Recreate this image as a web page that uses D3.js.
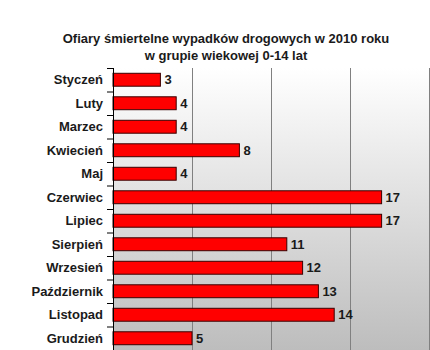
<!DOCTYPE html>
<html><head><meta charset="utf-8">
<script src="https://cdn.jsdelivr.net/npm/d3@7"></script>
<style>body{margin:0;background:#fff}svg{display:block}text{font-family:"Liberation Sans",Arial,sans-serif;font-weight:bold;fill:#1a1a1a}</style>
</head><body>
<script>
const months = ["Styczeń","Luty","Marzec","Kwiecień","Maj","Czerwiec","Lipiec","Sierpień","Wrzesień","Październik","Listopad","Grudzień"];
const values = [3,4,4,8,4,17,17,11,12,13,14,5];
const xTicks = [0,5,10,15,20];
const titleLines = ["Ofiary śmiertelne wypadków drogowych w 2010 roku","w grupie wiekowej 0-14 lat"];

const W=430,H=350;
const svg=d3.select("body").append("svg").attr("width",W).attr("height",H);
const L=113,R=429,T=68,B=350;
const x=d3.scaleLinear().domain([0,20]).range([L,R]);
const y=d3.scaleBand().domain(months).range([T,B]).paddingInner(0.45).paddingOuter(0.225);
const yb=d3.scaleBand().domain(months).range([T,B]);

const defs=svg.append("defs");
const g=defs.append("linearGradient").attr("id","bg").attr("x1",0).attr("y1",0).attr("x2",0).attr("y2",1);
g.append("stop").attr("offset","0%").attr("stop-color","#ffffff");
g.append("stop").attr("offset","100%").attr("stop-color","#bdbdbd");
svg.append("rect").attr("x",L).attr("y",T).attr("width",R-L).attr("height",B-T).attr("fill","url(#bg)");

svg.append("g").selectAll("line").data(xTicks.slice(1)).join("line")
 .attr("x1",d=>x(d)+0.5).attr("x2",d=>x(d)+0.5).attr("y1",T).attr("y2",B)
 .attr("stroke","#808080").attr("stroke-width",1);

svg.append("g").selectAll("rect").data(values).join("rect")
 .attr("x",L).attr("y",(d,i)=>y(months[i])).attr("width",d=>x(d)-L).attr("height",y.bandwidth())
 .attr("fill","#ff0000").attr("stroke","#3a0000").attr("stroke-width",1);

svg.append("g").selectAll("text").data(values).join("text")
 .attr("x",d=>x(d)+4).attr("y",(d,i)=>y(months[i])+y.bandwidth()/2).attr("dy","0.36em")
 .attr("font-size",13).text(d=>d);

// axis
const ax=svg.append("g");
ax.append("line").attr("x1",L+0.5).attr("x2",L+0.5).attr("y1",T).attr("y2",B).attr("stroke","#000");
ax.selectAll("line.t").data(months.concat(["_end"])).join("line").attr("class","t")
 .attr("x1",L-6).attr("x2",L).attr("y1",(d,i)=>T+i*yb.step()+0.5).attr("y2",(d,i)=>T+i*yb.step()+0.5).attr("stroke","#000");
ax.selectAll("text").data(months).join("text")
 .attr("x",L-10).attr("y",d=>yb(d)+yb.bandwidth()/2).attr("dy","0.36em").attr("text-anchor","end")
 .attr("font-size",13).text(d=>d);

svg.append("g").selectAll("text").data(titleLines).join("text")
 .attr("x",226).attr("y",(d,i)=>43+i*17).attr("text-anchor","middle").attr("font-size",13).text(d=>d);
</script>
</body></html>
